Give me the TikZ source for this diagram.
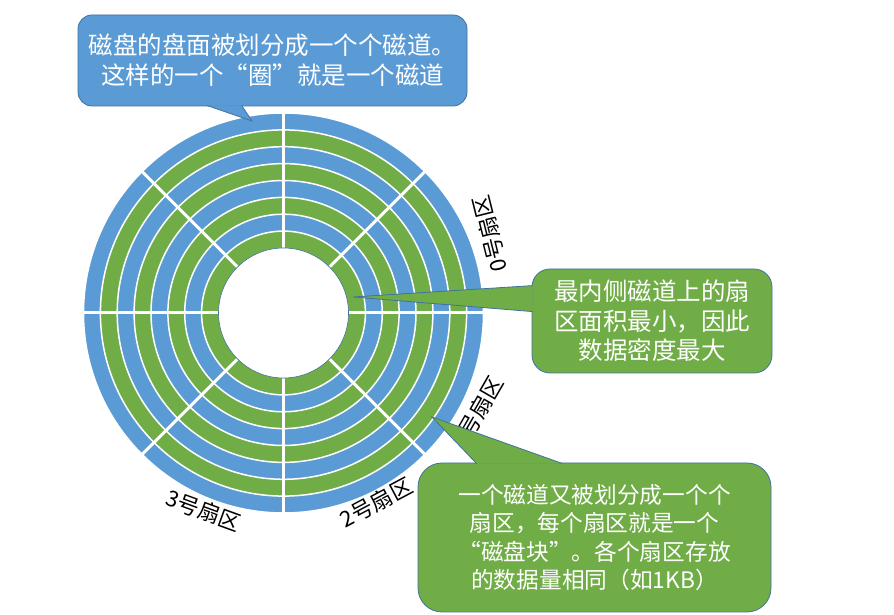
\documentclass[tikz,border=0pt]{standalone}
\usepackage{fontspec}
\newfontfamily\cjk{Noto Sans CJK SC}
\newfontfamily\cjkwide[RawFeature=+fwid]{Noto Sans CJK SC}
\usepackage{tikz}
\usetikzlibrary{calc}

\definecolor{diskblue}{HTML}{5B9BD5}
\definecolor{diskgreen}{HTML}{70AD47}
\definecolor{edgeblue}{HTML}{41719C}

\newcommand{\qopen}{{\cjkwide “}}
\newcommand{\qclose}{{\cjkwide ”}}

\tikzset{
    ring/.style={draw=white, line width=1.5pt},
    note/.style={draw=edgeblue, line width=0.8pt, text=white, align=center, inner sep=0pt},
    sectorlabel/.style={font=\cjk\fontsize{22}{22}\selectfont}
}

\begin{document}
\begin{tikzpicture}[x=1pt, y=1pt]
        \useasboundingbox (0,0) rectangle (894,615);
        \coordinate (ctr) at (283.5,302);

        % tracks, from the outside in
        \filldraw[fill=diskblue, ring] (ctr) circle (200);
        \filldraw[fill=diskgreen, ring] (ctr) circle (183.1);
        \filldraw[fill=diskblue, ring] (ctr) circle (166.3);
        \filldraw[fill=diskgreen, ring] (ctr) circle (149.4);
        \filldraw[fill=diskblue, ring] (ctr) circle (132.5);
        \filldraw[fill=diskgreen, ring] (ctr) circle (115.6);
        \filldraw[fill=diskblue, ring] (ctr) circle (98.8);
        \filldraw[fill=diskgreen, ring] (ctr) circle (81.9);

        % sector borders
        \draw[white, line width=3pt] ($(ctr)+(0:203)$) -- ($(ctr)+(180:203)$);
        \draw[white, line width=3pt] ($(ctr)+(45:203)$) -- ($(ctr)+(225:203)$);
        \draw[white, line width=3pt] ($(ctr)+(90:203)$) -- ($(ctr)+(270:203)$);
        \draw[white, line width=3pt] ($(ctr)+(135:203)$) -- ($(ctr)+(315:203)$);

        % hole
        \filldraw[fill=white, draw=edgeblue, line width=0.6pt] (ctr) circle (65);

        \node[sectorlabel, rotate=104] (sec0) at ($(ctr)+(21:221)$) {0号扇区};
        \node[sectorlabel, rotate=60] (sec1) at ($(ctr)+(-27:218)$) {1号扇区};
        \node[sectorlabel, rotate=28] (sec2) at ($(ctr)+(-64:211)$) {2号扇区};
        \node[sectorlabel, rotate=-20] (sec3) at ($(ctr)+(-112:213)$) {3号扇区};

        % callouts
        \node[note, fill=diskblue, rounded corners=14pt, minimum width=389, minimum height=91,
              font=\cjk\fontsize{24.5}{30}\selectfont] (tracknote) at (272.5,554.5)
              {磁盘的盘面被划分成一个个磁道。\\这样的一个\qopen 圈\qclose 就是一个磁道};
        \coordinate (tracktip) at (252,494);
        \filldraw[fill=diskblue, draw=edgeblue, line width=0.8pt]
              ($(tracknote.south west)+(129,1)$) -- (tracktip) -- ($(tracknote.south west)+(164,1)$);

        \node[note, fill=diskgreen, rounded corners=18pt, minimum width=240, minimum height=104,
              font=\cjk\fontsize{24.5}{29.5}\selectfont] (innernote) at (652,294)
              {最内侧磁道上的扇\\区面积最小，因此\\数据密度最大};
        \coordinate (innertip) at (353,318);
        \filldraw[fill=diskgreen, draw=edgeblue, line width=0.8pt]
              ($(innernote.north west)+(1,-17)$) -- (innertip) -- ($(innernote.north west)+(1,-43)$);

        \node[note, fill=diskgreen, rounded corners=24pt, minimum width=353, minimum height=149,
              font=\cjk\fontsize{22.7}{28.5}\selectfont] (blocknote) at (594.5,77.5)
              {一个磁道又被划分成一个个\\扇区，每个扇区就是一个\\\qopen 磁盘块\qclose 。各个扇区存放\\的数据量相同（如1KB）};
        \coordinate (blocktip) at (432,198);
        \filldraw[fill=diskgreen, draw=edgeblue, line width=0.8pt]
              ($(blocknote.north west)+(59,-1)$) -- (blocktip) -- ($(blocknote.north west)+(145,-1)$);
    \end{tikzpicture}
\end{document}
